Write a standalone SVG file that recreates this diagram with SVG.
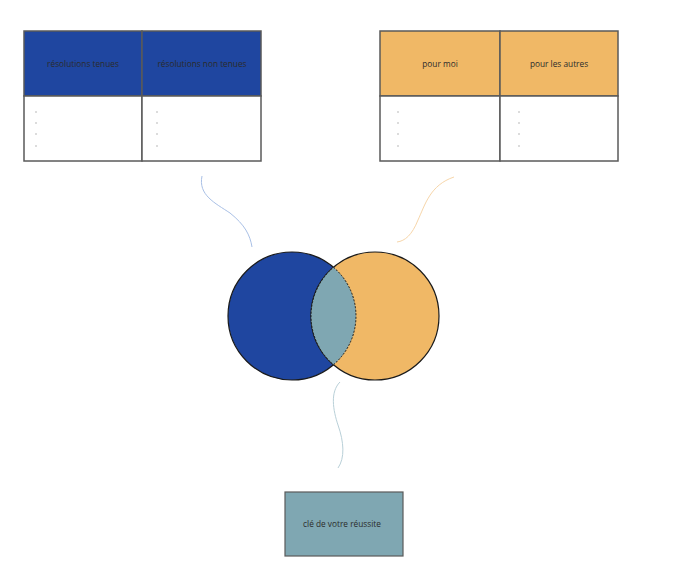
<svg xmlns="http://www.w3.org/2000/svg" width="692" height="584" viewBox="0 0 692 584">
<style>
.cell{stroke:#5a5a5a;stroke-width:1.5}
.hdr{font-family:"Open Sans","Liberation Sans",sans-serif;font-size:8.3px;fill:#2b2b2b;text-anchor:middle}
.dot{fill:#b0b0b0}
.conn{fill:none;stroke-width:1}
</style>
<rect width="692" height="584" fill="#ffffff"/>
<g id="table-resolutions">
<rect class="cell" x="24" y="31" width="118" height="65" fill="#1f46a0"/>
<rect class="cell" x="142" y="31" width="119" height="65" fill="#1f46a0"/>
<rect class="cell" x="24" y="96" width="118" height="65" fill="#ffffff"/>
<rect class="cell" x="142" y="96" width="119" height="65" fill="#ffffff"/>
<text class="hdr" x="83" y="66.5">résolutions tenues</text>
<text class="hdr" x="202" y="66.5">résolutions non tenues</text>
<circle class="dot" cx="36" cy="112" r="0.8"/><circle class="dot" cx="36" cy="123" r="0.8"/><circle class="dot" cx="36" cy="134" r="0.8"/><circle class="dot" cx="36" cy="146" r="0.8"/>
<circle class="dot" cx="157" cy="112" r="0.8"/><circle class="dot" cx="157" cy="123" r="0.8"/><circle class="dot" cx="157" cy="134" r="0.8"/><circle class="dot" cx="157" cy="146" r="0.8"/>
</g>
<g id="table-pour">
<rect class="cell" x="380" y="31" width="120" height="65" fill="#f0b866"/>
<rect class="cell" x="500" y="31" width="118" height="65" fill="#f0b866"/>
<rect class="cell" x="380" y="96" width="120" height="65" fill="#ffffff"/>
<rect class="cell" x="500" y="96" width="118" height="65" fill="#ffffff"/>
<text class="hdr" x="440" y="66.5">pour moi</text>
<text class="hdr" x="559" y="66.5">pour les autres</text>
<circle class="dot" cx="398" cy="112" r="0.8"/><circle class="dot" cx="398" cy="123" r="0.8"/><circle class="dot" cx="398" cy="134" r="0.8"/><circle class="dot" cx="398" cy="146" r="0.8"/>
<circle class="dot" cx="519" cy="112" r="0.8"/><circle class="dot" cx="519" cy="123" r="0.8"/><circle class="dot" cx="519" cy="134" r="0.8"/><circle class="dot" cx="519" cy="146" r="0.8"/>
</g>
<g id="venn">
<circle cx="292" cy="316" r="64" fill="#1f46a0" stroke="#1a1a1a" stroke-width="1.2"/>
<circle cx="375" cy="316" r="64" fill="#f0b866" stroke="#1a1a1a" stroke-width="1.2"/>
<path d="M333.5,267.3 A64,64 0 0 1 333.5,364.7 A64,64 0 0 1 333.5,267.3 Z" fill="#7fa7b2" stroke="#1a1a1a" stroke-width="1" stroke-dasharray="2,1.5"/>
</g>
<g id="key">
<rect x="285" y="492" width="118" height="64" fill="#7fa7b2" stroke="#5a5a5a" stroke-width="1.2"/>
<text class="hdr" x="342" y="526.5">clé de votre réussite</text>
</g>
<g id="connectors">
<path class="conn" stroke="#a9c0e6" d="M202,176 C198,195 215,203 230,213 C245,225 250,235 252,247"/>
<path class="conn" stroke="#f7d6aa" d="M454,177 C430,185 425,205 418,220 C412,235 405,241 397,242"/>
<path class="conn" stroke="#b9d0d8" d="M340,382 C330,392 333,410 338,425 C344,442 345,458 338,468"/>
</g>
</svg>
